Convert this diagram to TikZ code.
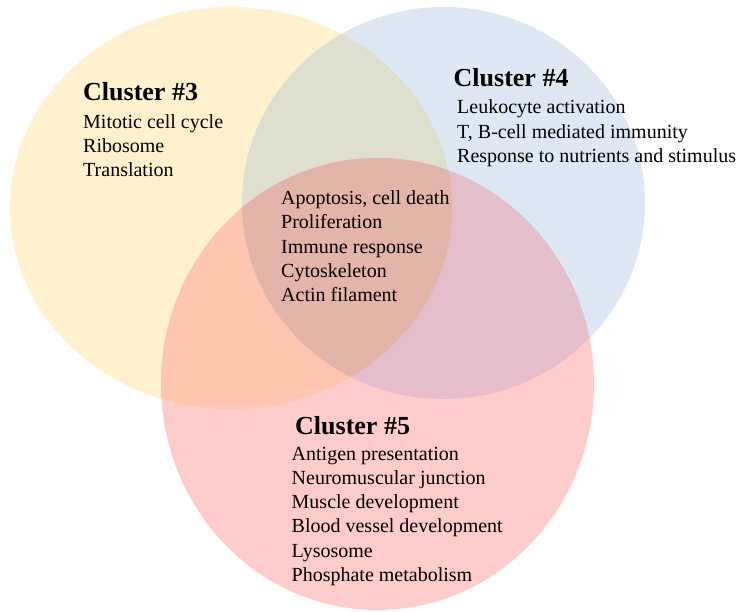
\documentclass[tikz,border=0pt]{standalone}
\usepackage{fontspec}
\setmainfont{Liberation Serif}
\definecolor{cY}{HTML}{FFF2CC}
\definecolor{cB}{HTML}{DEE8F5}
\definecolor{cP}{HTML}{FFCCCC}
\definecolor{cYB}{HTML}{DEDFCF}
\definecolor{cYP}{HTML}{FEC6AE}
\definecolor{cBP}{HTML}{E4BFCB}
\definecolor{cYBP}{HTML}{E3B4A8}
\tikzset{
  item/.style={anchor=base west, inner sep=0pt, font=\fontsize{20}{24}\selectfont},
  ctitle/.style={anchor=base west, inner sep=0pt, font=\fontsize{26}{30}\selectfont\bfseries},
}
\begin{document}
\begin{tikzpicture}[x=1pt,y=-1pt]
\useasboundingbox (0,0) rectangle (738,612);
\def\yell{(231,208) ellipse [x radius=221, y radius=201]}
\def\blue{(443.5,203) ellipse [x radius=201.5, y radius=196]}
\def\pink{(377.5,384) ellipse [x radius=216.5, y radius=226]}
\fill[cY] \yell;
\fill[cB] \blue;
\begin{scope}
  \clip \yell;
  \fill[cYB] \blue;
\end{scope}
\fill[cP] \pink;
\begin{scope}
  \clip \pink;
  \fill[cYP] \yell;
  \fill[cBP] \blue;
  \clip \yell;
  \fill[cYBP] \blue;
\end{scope}

\node[ctitle] (t3) at (83,101) {Cluster \#3};
\node[item] (a1) at (83,129) {Mitotic cell cycle};
\node[item] (a2) at (83,153) {Ribosome};
\node[item] (a3) at (83,177) {Translation};

\node[ctitle] (t4) at (453.5,87) {Cluster \#4};
\node[item] (b1) at (457,114) {Leukocyte activation};
\node[item] (b2) at (457,138.5) {T, B-cell mediated immunity};
\node[item] (b3) at (457,163) {Response to nutrients and stimulus};

\node[item] (c1) at (281,204.5) {Apoptosis, cell death};
\node[item] (c2) at (281,229) {Proliferation};
\node[item] (c3) at (281,253.5) {Immune response};
\node[item] (c4) at (281,277.5) {Cytoskeleton};
\node[item] (c5) at (281,301.5) {Actin filament};

\node[ctitle] (t5) at (295,434.5) {Cluster \#5};
\node[item] (d1) at (291.5,460) {Antigen presentation};
\node[item] (d2) at (291.5,484.3) {Neuromuscular junction};
\node[item] (d3) at (291.5,508.6) {Muscle development};
\node[item] (d4) at (291.5,532.8) {Blood vessel development};
\node[item] (d5) at (291.5,557) {Lysosome};
\node[item] (d6) at (291.5,581) {Phosphate metabolism};
\end{tikzpicture}
\end{document}
